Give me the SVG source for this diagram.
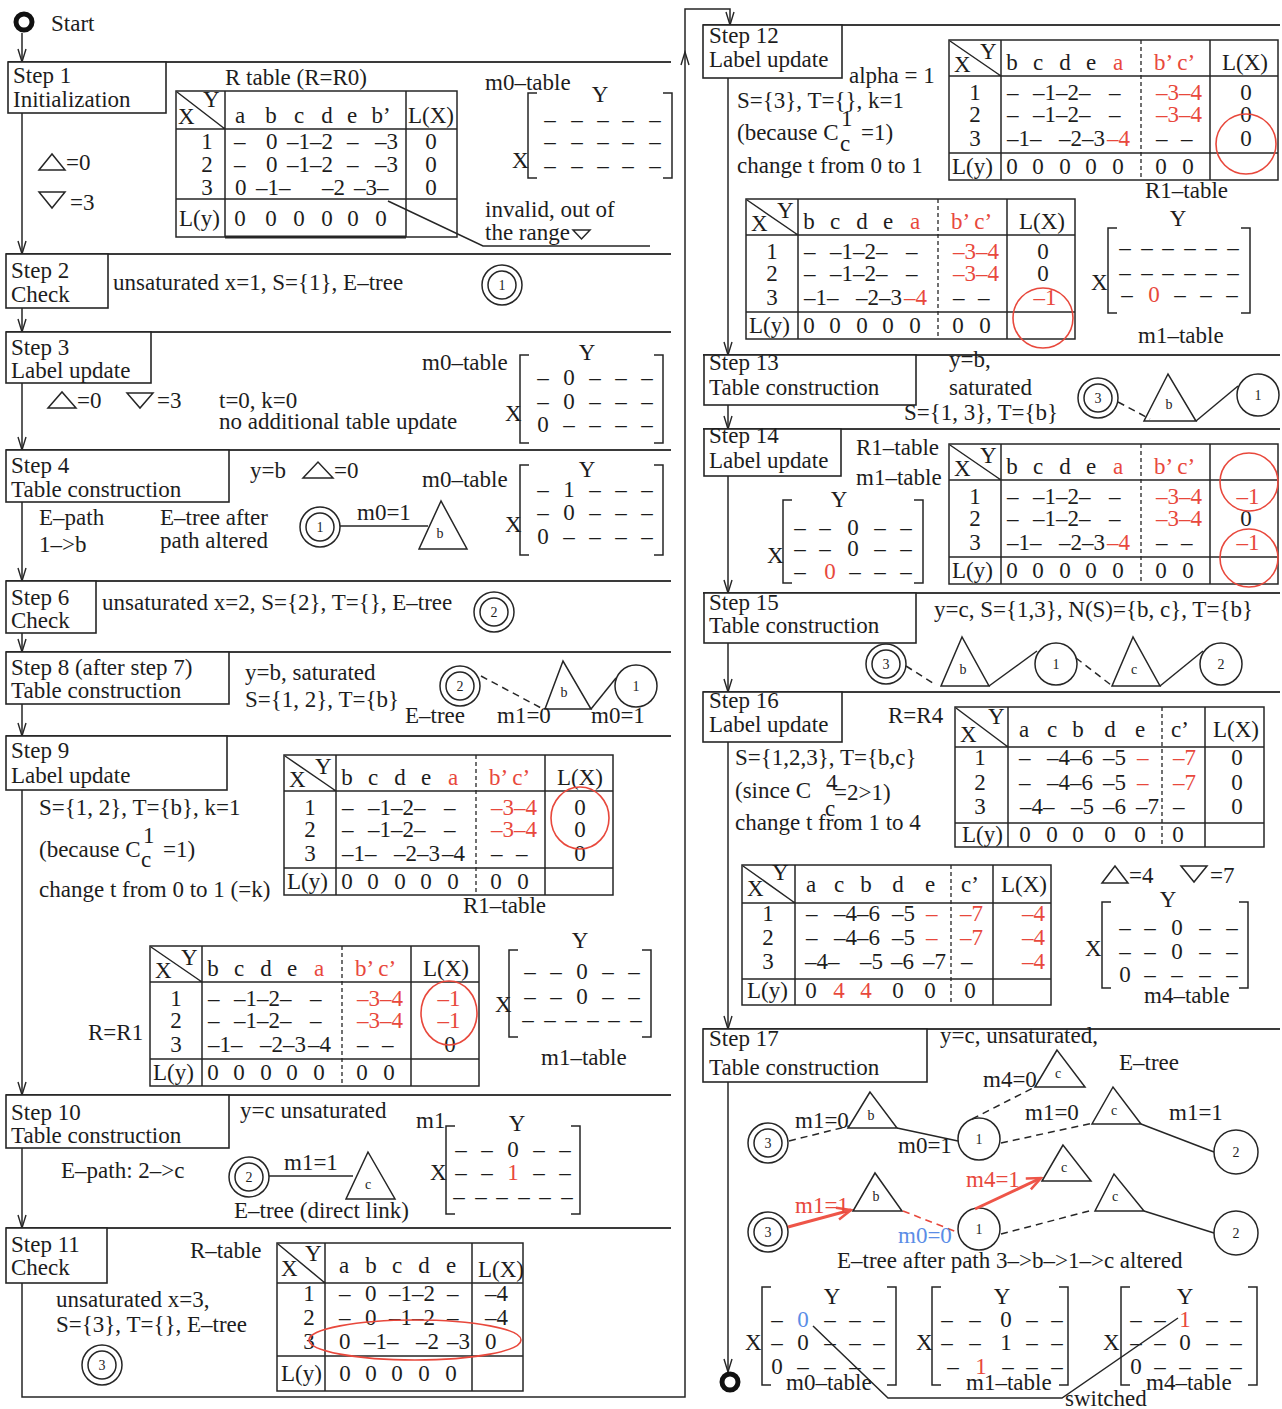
<svg xmlns="http://www.w3.org/2000/svg" width="1282" height="1409" viewBox="0 0 1282 1409">
<style>
.t{font-family:"Liberation Serif","Times New Roman",serif;font-size:23px;fill:#1d1d1d}
.m{text-anchor:middle}
.n{font-size:14px}
.rd{fill:#e8483c}
.bl{fill:#5b8de6}
.ln{fill:none;stroke:#262626;stroke-width:1.5}
.bx{fill:#fff;stroke:#262626;stroke-width:1.6}
.sep{fill:none;stroke:#3a3a3a;stroke-width:1.8}
.dv{fill:none;stroke:#262626;stroke-width:1.3;stroke-dasharray:4 3}
.ds{stroke-dasharray:7 5}
.rds{fill:none;stroke:#e8483c;stroke-width:1.6;stroke-dasharray:7 5}
.rc{fill:none;stroke:#e8483c;stroke-width:1.6}
.fl{fill:none;stroke:#262626;stroke-width:1.5;marker-end:url(#ah)}
.ra{fill:none;stroke:#ee5548;stroke-width:3;marker-end:url(#ahr)}
.ring{fill:none;stroke:#111;stroke-width:5}
</style>
<defs>
<marker id="ah" viewBox="-14 -6 16 12" refX="0" refY="0" markerWidth="16" markerHeight="12" markerUnits="userSpaceOnUse" orient="auto"><path d="M-13,-4 L0,0 L-13,4" fill="none" stroke="#262626" stroke-width="1.4"/></marker>
<marker id="ahr" viewBox="-16 -8 18 16" refX="0" refY="0" markerWidth="18" markerHeight="16" markerUnits="userSpaceOnUse" orient="auto"><path d="M-14,-6 L0,0 L-14,6" fill="none" stroke="#ee5548" stroke-width="2.5"/></marker>
<g id="dcirc"><circle class="ln" r="20"/><circle class="ln" r="14"/></g>
<g id="r1">
<rect class="ln" width="329" height="140"/>
<path class="ln" d="M0,36H329M0,113H329M52,0V140M261,0V140M1,1L52,36"/>
<path class="dv" d="M192,0V140"/>
<text class="t" x="5" y="32">X</text>
<text class="t" x="31" y="19">Y</text>
<text class="t m" y="30"><tspan x="63">b</tspan><tspan x="89">c</tspan><tspan x="116">d</tspan><tspan x="142">e</tspan><tspan x="169" class="rd">a</tspan></text>
<text class="t rd" x="205" y="30">b’ c’</text>
<text class="t m" x="26" y="60">1</text>
<text class="t m" x="26" y="82">2</text>
<text class="t m" x="26" y="106">3</text>
<text class="t" y="60"><tspan x="58">–</tspan><tspan x="84">–1–2–</tspan><tspan x="160">–</tspan></text>
<text class="t" y="82"><tspan x="58">–</tspan><tspan x="84">–1–2–</tspan><tspan x="160">–</tspan></text>
<text class="t rd" x="207" y="60">–3–4</text>
<text class="t rd" x="207" y="82">–3–4</text>
<text class="t" y="106"><tspan x="58">–1–</tspan><tspan x="110">–2–3</tspan><tspan x="207">–</tspan><tspan x="232">–</tspan></text>
<text class="t" x="3" y="134">L(y)</text>
<text class="t m" y="134"><tspan x="63">0</tspan><tspan x="89">0</tspan><tspan x="116">0</tspan><tspan x="142">0</tspan><tspan x="169">0</tspan><tspan x="212">0</tspan><tspan x="239">0</tspan></text>
</g>
</defs>
<rect width="1282" height="1409" fill="#fff"/>

<g id="separators">
<path class="sep" d="M8,62H671M6,254H671M6,332H671M6,450H671M6,581H671M6,652H671M6,736H671M6,1095H671M6,1228H671"/>
<path class="sep" d="M703,25H1280M703,355H1280M703,429H1280M703,593H1280M703,692H1280M703,1029H1280"/>
</g>

<g id="connectors">
<path class="fl" d="M22,33V62"/>
<path class="fl" d="M22,113V254"/>
<path class="fl" d="M22,308V332"/>
<path class="fl" d="M22,383V450"/>
<path class="fl" d="M22,502V581"/>
<path class="fl" d="M22,633V652"/>
<path class="fl" d="M22,704V736"/>
<path class="fl" d="M22,790V1095"/>
<path class="fl" d="M22,1148V1228"/>
<path class="fl" d="M22,1283V1397H685V52"/>
<path class="fl" d="M685,52V9H730V25"/>
<path class="fl" d="M728,78V355"/>
<path class="fl" d="M728,405V429"/>
<path class="fl" d="M728,476V593"/>
<path class="fl" d="M728,643V692"/>
<path class="fl" d="M728,742V1029"/>
<path class="fl" d="M728,1082V1372"/>
</g>

<g id="start">
<circle class="ring" cx="24" cy="22" r="8"/>
<text class="t" x="51" y="31">Start</text>
</g>

<g id="step1">
<rect class="bx" x="8" y="62" width="158" height="51"/>
<text class="t" x="13" y="83">Step 1</text>
<text class="t" x="13" y="107">Initialization</text>
<polygon class="ln" points="39,170 52,154 65,170"/><text class="t" x="66" y="170">=0</text>
<polygon class="ln" points="39,192 65,192 52,208"/><text class="t" x="70" y="210">=3</text>
<text class="t" x="225" y="85">R table (R=R0)</text>
<rect class="ln" x="176" y="91" width="281" height="146"/>
<path class="ln" d="M176,129H457M176,199H457M225,91V237M406,91V237M177,92L225,129"/>
<path d="M225,237H406" stroke="#262626" stroke-width="3"/>
<text class="t" x="178" y="124">X</text><text class="t" x="203" y="107">Y</text>
<text class="t m" y="123"><tspan x="240">a</tspan><tspan x="271">b</tspan><tspan x="299">c</tspan><tspan x="327">d</tspan><tspan x="352">e</tspan><tspan x="381">b’</tspan><tspan x="431">L(X)</tspan></text>
<text class="t m" x="207" y="149">1</text><text class="t m" x="207" y="172">2</text><text class="t m" x="207" y="195">3</text>
<text class="t" y="149"><tspan x="234">–</tspan><tspan x="266">0</tspan><tspan x="287">–1–2</tspan><tspan x="347">–</tspan><tspan x="375">–3</tspan></text>
<text class="t" y="172"><tspan x="234">–</tspan><tspan x="266">0</tspan><tspan x="287">–1–2</tspan><tspan x="347">–</tspan><tspan x="375">–3</tspan></text>
<text class="t" y="195"><tspan x="235">0</tspan><tspan x="256">–1–</tspan><tspan x="322">–2</tspan><tspan x="354">–3–</tspan></text>
<text class="t m" y="149" x="431">0</text><text class="t m" y="172" x="431">0</text><text class="t m" y="195" x="431">0</text>
<text class="t" x="179" y="226">L(y)</text>
<text class="t m" y="226"><tspan x="240">0</tspan><tspan x="271">0</tspan><tspan x="299">0</tspan><tspan x="327">0</tspan><tspan x="353">0</tspan><tspan x="381">0</tspan></text>
<path class="ln" d="M388,201L483,246H650"/>
<text class="t" x="485" y="217">invalid, out of</text>
<text class="t" x="485" y="240">the range</text>
<polygon class="ln" points="573,230 590,230 581.5,239"/>
<text class="t" x="485" y="90">m0–table</text>
<path class="ln" d="M537,93H528V178H537M663,93H672V178H663"/>
<text class="t m" x="600" y="102">Y</text>
<text class="t" x="512" y="168">X</text>
<text class="t m" y="127"><tspan x="550">–</tspan><tspan x="577">–</tspan><tspan x="603">–</tspan><tspan x="628">–</tspan><tspan x="655">–</tspan></text>
<text class="t m" y="149"><tspan x="550">–</tspan><tspan x="577">–</tspan><tspan x="603">–</tspan><tspan x="628">–</tspan><tspan x="655">–</tspan></text>
<text class="t m" y="173"><tspan x="550">–</tspan><tspan x="577">–</tspan><tspan x="603">–</tspan><tspan x="628">–</tspan><tspan x="655">–</tspan></text>
</g>

<g id="step2">
<rect class="bx" x="6" y="254" width="102" height="54"/>
<text class="t" x="11" y="278">Step 2</text>
<text class="t" x="11" y="302">Check</text>
<text class="t" x="113" y="290">unsaturated x=1, S={1}, E–tree</text>
<use href="#dcirc" x="502" y="285"/><text class="t m n" x="502" y="290">1</text>
</g>

<g id="step3">
<rect class="bx" x="6" y="332" width="145" height="51"/>
<text class="t" x="11" y="355">Step 3</text>
<text class="t" x="11" y="378">Label update</text>
<polygon class="ln" points="48,408 62,392 76,408"/><text class="t" x="77" y="408">=0</text>
<polygon class="ln" points="127,393 153,393 140,408"/><text class="t" x="157" y="408">=3</text>
<text class="t" x="219" y="408">t=0, k=0</text>
<text class="t" x="219" y="429">no additional table update</text>
<text class="t" x="422" y="370">m0–table</text>
<path class="ln" d="M529,355H520V443H529M654,355H663V443H654"/>
<text class="t m" x="587" y="360">Y</text>
<text class="t" x="505" y="421">X</text>
<text class="t m" y="385"><tspan x="543">–</tspan><tspan x="569">0</tspan><tspan x="595">–</tspan><tspan x="621">–</tspan><tspan x="647">–</tspan></text>
<text class="t m" y="409"><tspan x="543">–</tspan><tspan x="569">0</tspan><tspan x="595">–</tspan><tspan x="621">–</tspan><tspan x="647">–</tspan></text>
<text class="t m" y="432"><tspan x="543">0</tspan><tspan x="569">–</tspan><tspan x="595">–</tspan><tspan x="621">–</tspan><tspan x="647">–</tspan></text>
</g>

<g id="step4">
<rect class="bx" x="6" y="450" width="223" height="52"/>
<text class="t" x="11" y="473">Step 4</text>
<text class="t" x="11" y="497">Table construction</text>
<text class="t" x="250" y="478">y=b</text>
<polygon class="ln" points="303,478 318,462 333,478"/><text class="t" x="334" y="478">=0</text>
<text class="t" x="422" y="487">m0–table</text>
<path class="ln" d="M529,465H520V555H529M654,465H663V555H654"/>
<text class="t m" x="587" y="477">Y</text>
<text class="t" x="505" y="532">X</text>
<text class="t m" y="497"><tspan x="543">–</tspan><tspan x="569">1</tspan><tspan x="595">–</tspan><tspan x="621">–</tspan><tspan x="647">–</tspan></text>
<text class="t m" y="520"><tspan x="543">–</tspan><tspan x="569">0</tspan><tspan x="595">–</tspan><tspan x="621">–</tspan><tspan x="647">–</tspan></text>
<text class="t m" y="544"><tspan x="543">0</tspan><tspan x="569">–</tspan><tspan x="595">–</tspan><tspan x="621">–</tspan><tspan x="647">–</tspan></text>
<text class="t" x="39" y="525">E–path</text>
<text class="t" x="39" y="552">1–&gt;b</text>
<text class="t" x="160" y="525">E–tree after</text>
<text class="t" x="160" y="548">path altered</text>
<use href="#dcirc" x="320" y="527"/><text class="t m n" x="320" y="532">1</text>
<path class="ln" d="M340,526H428"/>
<text class="t" x="357" y="520">m0=1</text>
<polygon class="ln" points="441,501 419,549 467,549"/><text class="t m n" x="440" y="538">b</text>
</g>

<g id="step6">
<rect class="bx" x="6" y="581" width="90" height="52"/>
<text class="t" x="11" y="605">Step 6</text>
<text class="t" x="11" y="628">Check</text>
<text class="t" x="102" y="610">unsaturated x=2, S={2}, T={}, E–tree</text>
<use href="#dcirc" x="494" y="612"/><text class="t m n" x="494" y="617">2</text>
</g>

<g id="step8">
<rect class="bx" x="6" y="652" width="223" height="52"/>
<text class="t" x="11" y="675">Step 8 (after step 7)</text>
<text class="t" x="11" y="698">Table construction</text>
<text class="t" x="245" y="680">y=b, saturated</text>
<text class="t" x="245" y="707">S={1, 2}, T={b}</text>
<use href="#dcirc" x="460" y="686"/><text class="t m n" x="460" y="691">2</text>
<path class="ln ds" d="M481,676L543,709"/>
<polygon class="ln" points="563,661 545,709 591,709"/><text class="t m n" x="564" y="697">b</text>
<path class="ln" d="M591,709L616,678"/>
<circle class="ln" cx="636" cy="686" r="21"/><text class="t m n" x="636" y="691">1</text>
<text class="t" x="405" y="723">E–tree</text>
<text class="t" x="497" y="723">m1=0</text>
<text class="t" x="591" y="723">m0=1</text>
</g>

<g id="step9">
<rect class="bx" x="6" y="736" width="221" height="54"/>
<text class="t" x="11" y="758">Step 9</text>
<text class="t" x="11" y="783">Label update</text>
<text class="t" x="39" y="815">S={1, 2}, T={b}, k=1</text>
<text class="t" x="39" y="857">(because C</text>
<text class="t" x="143" y="843">1</text>
<text class="t" x="141" y="867">c</text>
<text class="t" x="163" y="857">=1)</text>
<text class="t" x="39" y="897">change t from 0 to 1 (=k)</text>
<g transform="translate(284,755)">
<use href="#r1"/>
<text class="t m" x="296" y="30">L(X)</text>
<text class="t m" x="296" y="60">0</text><text class="t m" x="296" y="82">0</text><text class="t m" x="296" y="106">0</text>
<text class="t" x="158" y="106">–4</text>
<ellipse class="rc" cx="296" cy="63" rx="29" ry="31"/>
</g>
<text class="t" x="463" y="913">R1–table</text>
<g transform="translate(150,946)">
<use href="#r1"/>
<text class="t m" x="296" y="30">L(X)</text>
<text class="t m rd" x="299" y="60">–1</text><text class="t m rd" x="299" y="82">–1</text><text class="t m" x="300" y="106">0</text>
<text class="t" x="158" y="106">–4</text>
<ellipse class="rc" cx="299" cy="67" rx="28" ry="32"/>
</g>
<text class="t" x="88" y="1040">R=R1</text>
<path class="ln" d="M518,950H509V1037H518M642,950H651V1037H642"/>
<text class="t m" x="580" y="948">Y</text>
<text class="t" x="495" y="1012">X</text>
<text class="t m" y="979"><tspan x="530">–</tspan><tspan x="556">–</tspan><tspan x="582">0</tspan><tspan x="608">–</tspan><tspan x="634">–</tspan></text>
<text class="t m" y="1004"><tspan x="530">–</tspan><tspan x="556">–</tspan><tspan x="582">0</tspan><tspan x="608">–</tspan><tspan x="634">–</tspan></text>
<text class="t m" y="1027"><tspan x="528">–</tspan><tspan x="550">–</tspan><tspan x="571">–</tspan><tspan x="593">–</tspan><tspan x="614">–</tspan><tspan x="636">–</tspan></text>
<text class="t" x="541" y="1065">m1–table</text>
</g>

<g id="step10">
<rect class="bx" x="6" y="1095" width="223" height="53"/>
<text class="t" x="11" y="1120">Step 10</text>
<text class="t" x="11" y="1143">Table construction</text>
<text class="t" x="240" y="1118">y=c unsaturated</text>
<text class="t" x="416" y="1128">m1</text>
<path class="ln" d="M455,1126H446V1214H455M571,1126H580V1214H571"/>
<text class="t m" x="517" y="1131">Y</text>
<text class="t" x="430" y="1180">X</text>
<text class="t m" y="1157"><tspan x="461">–</tspan><tspan x="487">–</tspan><tspan x="513">0</tspan><tspan x="539">–</tspan><tspan x="565">–</tspan></text>
<text class="t m" y="1180"><tspan x="461">–</tspan><tspan x="487">–</tspan><tspan x="513" class="rd">1</tspan><tspan x="539">–</tspan><tspan x="565">–</tspan></text>
<text class="t m" y="1204"><tspan x="459">–</tspan><tspan x="481">–</tspan><tspan x="502">–</tspan><tspan x="524">–</tspan><tspan x="545">–</tspan><tspan x="567">–</tspan></text>
<text class="t" x="61" y="1178">E–path: 2–&gt;c</text>
<use href="#dcirc" x="249" y="1177"/><text class="t m n" x="249" y="1182">2</text>
<path class="ln" d="M269,1176H353"/>
<text class="t" x="284" y="1170">m1=1</text>
<polygon class="ln" points="368,1152 346,1199 395,1199"/><text class="t m n" x="368" y="1189">c</text>
<text class="t" x="234" y="1218">E–tree (direct link)</text>
</g>

<g id="step11">
<rect class="bx" x="6" y="1228" width="101" height="55"/>
<text class="t" x="11" y="1252">Step 11</text>
<text class="t" x="11" y="1275">Check</text>
<text class="t" x="190" y="1258">R–table</text>
<rect class="ln" x="277" y="1243" width="246" height="148"/>
<path class="ln" d="M277,1283H523M277,1356H523M325,1243V1391M472,1243V1391M278,1244L325,1283"/>
<text class="t" x="281" y="1276">X</text><text class="t" x="305" y="1261">Y</text>
<text class="t m" y="1273"><tspan x="344">a</tspan><tspan x="371">b</tspan><tspan x="397">c</tspan><tspan x="424">d</tspan><tspan x="451">e</tspan></text>
<text class="t" x="478" y="1277">L(X)</text>
<text class="t m" x="309" y="1301">1</text><text class="t m" x="309" y="1325">2</text><text class="t m" x="309" y="1349">3</text>
<text class="t" y="1301"><tspan x="339">–</tspan><tspan x="365">0</tspan><tspan x="389">–1–2</tspan><tspan x="447">–</tspan><tspan x="485">–4</tspan></text>
<text class="t" y="1325"><tspan x="339">–</tspan><tspan x="365">0</tspan><tspan x="389">–1–2</tspan><tspan x="447">–</tspan><tspan x="485">–4</tspan></text>
<text class="t" y="1349"><tspan x="339">0</tspan><tspan x="364">–1–</tspan><tspan x="416">–2</tspan><tspan x="447">–3</tspan><tspan x="485">0</tspan></text>
<text class="t" x="281" y="1381">L(y)</text>
<text class="t m" y="1381"><tspan x="345">0</tspan><tspan x="371">0</tspan><tspan x="397">0</tspan><tspan x="424">0</tspan><tspan x="451">0</tspan></text>
<ellipse class="rc" cx="415" cy="1340" rx="106" ry="20"/>
<text class="t" x="56" y="1307">unsaturated x=3,</text>
<text class="t" x="56" y="1332">S={3}, T={}, E–tree</text>
<use href="#dcirc" x="102" y="1365"/><text class="t m n" x="102" y="1370">3</text>
</g>

<g id="step12">
<rect class="bx" x="703" y="25" width="139" height="53"/>
<text class="t" x="709" y="43">Step 12</text>
<text class="t" x="709" y="67">Label update</text>
<text class="t" x="849" y="83">alpha = 1</text>
<text class="t" x="737" y="108">S={3}, T={}, k=1</text>
<text class="t" x="737" y="140">(because C</text>
<text class="t" x="841" y="126">1</text>
<text class="t" x="840" y="151">c</text>
<text class="t" x="861" y="140">=1)</text>
<text class="t" x="737" y="173">change t from 0 to 1</text>
<g transform="translate(949,40)">
<use href="#r1"/>
<text class="t m" x="296" y="30">L(X)</text>
<text class="t m" x="297" y="60">0</text><text class="t m" x="297" y="82">0</text><text class="t m" x="297" y="106">0</text>
<text class="t rd" x="158" y="106">–4</text>
<circle class="rc" cx="297" cy="104" r="30"/>
</g>
<text class="t" x="1145" y="198">R1–table</text>
<g transform="translate(746,199)">
<use href="#r1"/>
<text class="t m" x="296" y="30">L(X)</text>
<text class="t m" x="297" y="60">0</text><text class="t m" x="297" y="82">0</text><text class="t m rd" x="299" y="106">–1</text>
<text class="t rd" x="158" y="106">–4</text>
<circle class="rc" cx="297" cy="119" r="30"/>
</g>
<path class="ln" d="M1117,228H1108V313H1117M1241,228H1250V313H1241"/>
<text class="t m" x="1178" y="226">Y</text>
<text class="t" x="1091" y="290">X</text>
<text class="t m" y="255"><tspan x="1125">–</tspan><tspan x="1147">–</tspan><tspan x="1168">–</tspan><tspan x="1190">–</tspan><tspan x="1211">–</tspan><tspan x="1233">–</tspan></text>
<text class="t m" y="280"><tspan x="1125">–</tspan><tspan x="1147">–</tspan><tspan x="1168">–</tspan><tspan x="1190">–</tspan><tspan x="1211">–</tspan><tspan x="1233">–</tspan></text>
<text class="t m" y="302"><tspan x="1127">–</tspan><tspan x="1154" class="rd">0</tspan><tspan x="1180">–</tspan><tspan x="1206">–</tspan><tspan x="1232">–</tspan></text>
<text class="t" x="1138" y="343">m1–table</text>
</g>

<g id="step13">
<rect class="bx" x="704" y="355" width="212" height="50"/>
<text class="t" x="709" y="370">Step 13</text>
<text class="t" x="709" y="395">Table construction</text>
<text class="t" x="949" y="367">y=b,</text>
<text class="t" x="949" y="395">saturated</text>
<text class="t" x="904" y="420">S={1, 3}, T={b}</text>
<use href="#dcirc" x="1098" y="398"/><text class="t m n" x="1098" y="403">3</text>
<path class="ln ds" d="M1118,402L1150,419"/>
<polygon class="ln" points="1168,374 1144,421 1196,421"/><text class="t m n" x="1169" y="409">b</text>
<path class="ln" d="M1196,421L1238,386"/>
<circle class="ln" cx="1258" cy="395" r="21"/><text class="t m n" x="1258" y="400">1</text>
</g>

<g id="step14">
<rect class="bx" x="704" y="429" width="137" height="47"/>
<text class="t" x="709" y="443">Step 14</text>
<text class="t" x="709" y="468">Label update</text>
<text class="t" x="856" y="455">R1–table</text>
<text class="t" x="856" y="485">m1–table</text>
<g transform="translate(949,444)">
<use href="#r1"/>
<text class="t m rd" x="299" y="60">–1</text><text class="t m" x="297" y="82">0</text><text class="t m rd" x="299" y="106">–1</text>
<text class="t rd" x="158" y="106">–4</text>
<circle class="rc" cx="300" cy="38" r="29"/>
<circle class="rc" cx="300" cy="114" r="29"/>
</g>
<path class="ln" d="M792,500H783V583H792M914,500H923V583H914"/>
<text class="t m" x="839" y="507">Y</text>
<text class="t" x="767" y="563">X</text>
<text class="t m" y="535"><tspan x="800">–</tspan><tspan x="825">–</tspan><tspan x="853">0</tspan><tspan x="880">–</tspan><tspan x="906">–</tspan></text>
<text class="t m" y="556"><tspan x="800">–</tspan><tspan x="825">–</tspan><tspan x="853">0</tspan><tspan x="880">–</tspan><tspan x="906">–</tspan></text>
<text class="t m" y="579"><tspan x="800">–</tspan><tspan x="830" class="rd">0</tspan><tspan x="855">–</tspan><tspan x="880">–</tspan><tspan x="906">–</tspan></text>
</g>

<g id="step15">
<rect class="bx" x="704" y="593" width="212" height="50"/>
<text class="t" x="709" y="610">Step 15</text>
<text class="t" x="709" y="633">Table construction</text>
<text class="t" x="934" y="617">y=c, S={1,3}, N(S)={b, c}, T={b}</text>
<use href="#dcirc" x="886" y="664"/><text class="t m n" x="886" y="669">3</text>
<path class="ln ds" d="M906,666L936,685"/>
<polygon class="ln" points="962,637 941,686 989,686"/><text class="t m n" x="963" y="674">b</text>
<path class="ln" d="M989,686L1037,651"/>
<circle class="ln" cx="1056" cy="664" r="21"/><text class="t m n" x="1056" y="669">1</text>
<path class="ln ds" d="M1076,658L1111,685"/>
<polygon class="ln" points="1133,637 1112,686 1160,686"/><text class="t m n" x="1134" y="674">c</text>
<path class="ln" d="M1160,686L1203,651"/>
<circle class="ln" cx="1221" cy="664" r="21"/><text class="t m n" x="1221" y="669">2</text>
</g>

<g id="step16">
<rect class="bx" x="703" y="692" width="139" height="50"/>
<text class="t" x="709" y="708">Step 16</text>
<text class="t" x="709" y="732">Label update</text>
<text class="t" x="888" y="723">R=R4</text>
<text class="t" x="735" y="765">S={1,2,3}, T={b,c}</text>
<text class="t" x="735" y="798">(since C</text>
<text class="t" x="826" y="790">4</text>
<text class="t" x="834" y="800">=2&gt;1)</text>
<text class="t" x="825" y="816">c</text>
<text class="t" x="735" y="830">change t from 1 to 4</text>
<rect class="ln" x="955" y="707" width="309" height="140"/>
<path class="ln" d="M955,747H1264M955,823H1264M1008,707V847M1205,707V847M956,708L1008,747"/>
<path class="dv" d="M1162,707V847"/>
<text class="t" x="960" y="742">X</text><text class="t" x="988" y="724">Y</text>
<text class="t m" y="737"><tspan x="1024">a</tspan><tspan x="1052">c</tspan><tspan x="1078">b</tspan><tspan x="1110">d</tspan><tspan x="1140">e</tspan><tspan x="1180">c’</tspan><tspan x="1236">L(X)</tspan></text>
<text class="t m" x="980" y="765">1</text><text class="t m" x="980" y="790">2</text><text class="t m" x="980" y="814">3</text>
<text class="t" y="765"><tspan x="1019">–</tspan><tspan x="1047">–4–6</tspan><tspan x="1103">–5</tspan><tspan x="1137" class="rd">–</tspan><tspan x="1173" class="rd">–7</tspan></text>
<text class="t" y="790"><tspan x="1019">–</tspan><tspan x="1047">–4–6</tspan><tspan x="1103">–5</tspan><tspan x="1137" class="rd">–</tspan><tspan x="1173" class="rd">–7</tspan></text>
<text class="t" y="814"><tspan x="1020">–4–</tspan><tspan x="1071">–5</tspan><tspan x="1103">–6</tspan><tspan x="1136">–7</tspan><tspan x="1173">–</tspan></text>
<text class="t m" x="1237" y="765">0</text><text class="t m" x="1237" y="790">0</text><text class="t m" x="1237" y="814">0</text>
<text class="t" x="962" y="842">L(y)</text>
<text class="t m" y="842"><tspan x="1025">0</tspan><tspan x="1052">0</tspan><tspan x="1078">0</tspan><tspan x="1110">0</tspan><tspan x="1140">0</tspan><tspan x="1178">0</tspan></text>
<rect class="ln" x="742" y="865" width="309" height="140"/>
<path class="ln" d="M742,903H1051M742,979H1051M795,865V1005M993,865V1005M743,866L795,903"/>
<path class="dv" d="M951,865V1005"/>
<text class="t" x="747" y="896">X</text><text class="t" x="772" y="880">Y</text>
<text class="t m" y="892"><tspan x="811">a</tspan><tspan x="839">c</tspan><tspan x="866">b</tspan><tspan x="898">d</tspan><tspan x="930">e</tspan><tspan x="970">c’</tspan><tspan x="1024">L(X)</tspan></text>
<text class="t m" x="768" y="921">1</text><text class="t m" x="768" y="945">2</text><text class="t m" x="768" y="969">3</text>
<text class="t" y="921"><tspan x="806">–</tspan><tspan x="834">–4–6</tspan><tspan x="892">–5</tspan><tspan x="926" class="rd">–</tspan><tspan x="960" class="rd">–7</tspan><tspan x="1022" class="rd">–4</tspan></text>
<text class="t" y="945"><tspan x="806">–</tspan><tspan x="834">–4–6</tspan><tspan x="892">–5</tspan><tspan x="926" class="rd">–</tspan><tspan x="960" class="rd">–7</tspan><tspan x="1022" class="rd">–4</tspan></text>
<text class="t" y="969"><tspan x="805">–4–</tspan><tspan x="860">–5</tspan><tspan x="891">–6</tspan><tspan x="923">–7</tspan><tspan x="961">–</tspan><tspan x="1022" class="rd">–4</tspan></text>
<text class="t" x="747" y="998">L(y)</text>
<text class="t m" y="998"><tspan x="811">0</tspan><tspan x="839" class="rd">4</tspan><tspan x="866" class="rd">4</tspan><tspan x="898">0</tspan><tspan x="930">0</tspan><tspan x="970">0</tspan></text>
<polygon class="ln" points="1102,883 1115,866 1128,883"/><text class="t" x="1129" y="883">=4</text>
<polygon class="ln" points="1181,866 1207,866 1194,882"/><text class="t" x="1210" y="883">=7</text>
<path class="ln" d="M1111,902H1102V988H1111M1239,902H1248V988H1239"/>
<text class="t m" x="1168" y="907">Y</text>
<text class="t" x="1085" y="956">X</text>
<text class="t m" y="935"><tspan x="1125">–</tspan><tspan x="1150">–</tspan><tspan x="1177">0</tspan><tspan x="1205">–</tspan><tspan x="1232">–</tspan></text>
<text class="t m" y="959"><tspan x="1125">–</tspan><tspan x="1150">–</tspan><tspan x="1177">0</tspan><tspan x="1205">–</tspan><tspan x="1232">–</tspan></text>
<text class="t m" y="982"><tspan x="1125">0</tspan><tspan x="1150">–</tspan><tspan x="1177">–</tspan><tspan x="1205">–</tspan><tspan x="1232">–</tspan></text>
<text class="t" x="1144" y="1003">m4–table</text>
</g>

<g id="step17">
<rect class="bx" x="703" y="1029" width="224" height="53"/>
<text class="t" x="709" y="1046">Step 17</text>
<text class="t" x="709" y="1075">Table construction</text>
<text class="t" x="940" y="1043">y=c, unsaturated,</text>
<text class="t" x="1119" y="1070">E–tree</text>
<use href="#dcirc" x="768" y="1143"/><text class="t m n" x="768" y="1148">3</text>
<path class="ln ds" d="M789,1141L849,1126"/>
<text class="t" x="795" y="1128">m1=0</text>
<polygon class="ln" points="870,1092 848,1128 897,1128"/><text class="t m n" x="871" y="1120">b</text>
<path class="ln" d="M897,1128L958,1141"/>
<text class="t" x="898" y="1153">m0=1</text>
<circle class="ln" cx="979" cy="1139" r="21"/><text class="t m n" x="979" y="1144">1</text>
<path class="ln ds" d="M972,1119L1035,1087"/>
<polygon class="ln" points="1057,1050 1035,1087 1085,1087"/><text class="t m n" x="1058" y="1078">c</text>
<text class="t" x="983" y="1087">m4=0</text>
<path class="ln ds" d="M1001,1143L1093,1123"/>
<text class="t" x="1025" y="1120">m1=0</text>
<polygon class="ln" points="1113,1087 1092,1124 1141,1124"/><text class="t m n" x="1114" y="1115">c</text>
<path class="ln" d="M1141,1124L1214,1152"/>
<text class="t" x="1169" y="1120">m1=1</text>
<circle class="ln" cx="1236" cy="1152" r="22"/><text class="t m n" x="1236" y="1157">2</text>
<use href="#dcirc" x="768" y="1232"/><text class="t m n" x="768" y="1237">3</text>
<path class="ra" d="M788,1227L851,1210"/>
<text class="t rd" x="795" y="1213">m1=1</text>
<polygon class="ln" points="875,1173 853,1211 902,1211"/><text class="t m n" x="876" y="1201">b</text>
<path class="rds" d="M903,1211L957,1232"/>
<text class="t bl" x="898" y="1243">m0=0</text>
<circle class="ln" cx="979" cy="1229" r="21"/><text class="t m n" x="979" y="1234">1</text>
<path class="ra" d="M975,1209L1041,1178"/>
<text class="t rd" x="966" y="1187">m4=1</text>
<polygon class="ln" points="1063,1145 1042,1181 1091,1181"/><text class="t m n" x="1064" y="1172">c</text>
<path class="ln ds" d="M1001,1234L1093,1210"/>
<polygon class="ln" points="1114,1174 1095,1211 1144,1211"/><text class="t m n" x="1115" y="1201">c</text>
<path class="ln" d="M1144,1211L1214,1233"/>
<circle class="ln" cx="1236" cy="1233" r="22"/><text class="t m n" x="1236" y="1238">2</text>
<text class="t" x="837" y="1268">E–tree after path 3–&gt;b–&gt;1–&gt;c altered</text>
<path class="ln" d="M771,1287H762V1385H771M887,1287H896V1385H887"/>
<text class="t m" x="832" y="1304">Y</text>
<text class="t" x="745" y="1350">X</text>
<text class="t m" y="1327"><tspan x="777">–</tspan><tspan x="803" class="bl">0</tspan><tspan x="830">–</tspan><tspan x="855">–</tspan><tspan x="879">–</tspan></text>
<text class="t m" y="1350"><tspan x="777">–</tspan><tspan x="803">0</tspan><tspan x="830">–</tspan><tspan x="855">–</tspan><tspan x="879">–</tspan></text>
<text class="t m" y="1374"><tspan x="777">0</tspan><tspan x="803">–</tspan><tspan x="830">–</tspan><tspan x="855">–</tspan><tspan x="879">–</tspan></text>
<text class="t" x="786" y="1390">m0–table</text>
<path class="ln" d="M941,1287H932V1385H941M1059,1287H1068V1385H1059"/>
<text class="t m" x="1002" y="1304">Y</text>
<text class="t" x="916" y="1350">X</text>
<text class="t m" y="1327"><tspan x="947">–</tspan><tspan x="975">–</tspan><tspan x="1006">0</tspan><tspan x="1032">–</tspan><tspan x="1057">–</tspan></text>
<text class="t m" y="1350"><tspan x="947">–</tspan><tspan x="975">–</tspan><tspan x="1006">1</tspan><tspan x="1032">–</tspan><tspan x="1057">–</tspan></text>
<text class="t m" y="1374"><tspan x="953">–</tspan><tspan x="981" class="rd">1</tspan><tspan x="1008">–</tspan><tspan x="1032">–</tspan><tspan x="1057">–</tspan></text>
<text class="t" x="966" y="1390">m1–table</text>
<path class="ln" d="M1130,1287H1121V1385H1130M1248,1287H1257V1385H1248"/>
<text class="t m" x="1185" y="1304">Y</text>
<text class="t" x="1103" y="1350">X</text>
<text class="t m" y="1327"><tspan x="1136">–</tspan><tspan x="1160">–</tspan><tspan x="1185" class="rd">1</tspan><tspan x="1212">–</tspan><tspan x="1236">–</tspan></text>
<text class="t m" y="1350"><tspan x="1136">–</tspan><tspan x="1160">–</tspan><tspan x="1185">0</tspan><tspan x="1212">–</tspan><tspan x="1236">–</tspan></text>
<text class="t m" y="1374"><tspan x="1136">0</tspan><tspan x="1160">–</tspan><tspan x="1185">–</tspan><tspan x="1212">–</tspan><tspan x="1236">–</tspan></text>
<text class="t" x="1146" y="1390">m4–table</text>
<path class="ln" d="M813,1326L888,1398H1062L1178,1318"/>
<text class="t" x="1065" y="1406">switched</text>
</g>

<g id="end">
<circle class="ring" cx="730" cy="1382" r="8"/>
</g>
</svg>
